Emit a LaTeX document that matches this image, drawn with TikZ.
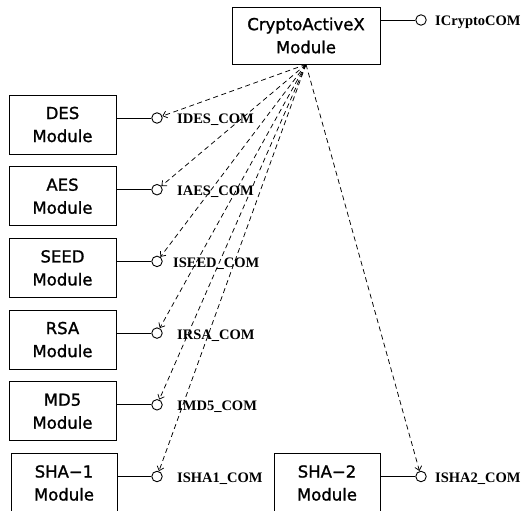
\documentclass[tikz,border=0pt]{standalone}
\usepackage{fontspec}
\setmainfont{Liberation Serif}
\newfontfamily\boxfont[FakeBold=1.3]{DejaVu Sans}
\usetikzlibrary{arrows.meta}
\begin{document}
\begin{tikzpicture}[x=1pt,y=-1pt,
  modbox/.style={draw, line width=0.9pt, minimum height=59pt, inner sep=0pt, align=center,
    font=\boxfont\fontsize{16.5}{23}\selectfont},
  iface/.style={circle, draw, line width=0.9pt, minimum size=10.5pt, inner sep=0pt},
  lbl/.style={anchor=base west, inner sep=0pt, font=\fontsize{14.5}{16}\selectfont\bfseries},
  conn/.style={line width=0.9pt},
  dep/.style={line width=0.75pt, dash pattern=on 5pt off 3.5pt, -{Straight Barb[length=4pt,width=7pt]}}
]
\useasboundingbox (0,0) rectangle (526,510);

% top module
\node[modbox, minimum width=148pt, minimum height=57pt] (cax) at (306,35.5) {CryptoActiveX\\Module};
\node[iface] (caxI) at (421,20) {};
\node[lbl] (caxL) at (435,26) {ICryptoCOM};
\draw[conn] (caxI) -- (caxI -| cax.east);

% left modules
\node[modbox, minimum width=107pt] (des) at (62.5,124.5) {DES\\Module};
\node[iface] (desI) at (157,118) {};
\node[lbl] (desL) at (177,124) {IDES\_COM};
\draw[conn] (desI) -- (desI -| des.east);

\node[modbox, minimum width=107pt] (aes) at (62.5,196.2) {AES\\Module};
\node[iface] (aesI) at (157,189.7) {};
\node[lbl] (aesL) at (177,195.7) {IAES\_COM};
\draw[conn] (aesI) -- (aesI -| aes.east);

\node[modbox, minimum width=107pt] (seed) at (62.5,267.9) {SEED\\Module};
\node[iface] (seedI) at (157,261.4) {};
\node[lbl] (seedL) at (173,267.4) {ISEED\_COM};
\draw[conn] (seedI) -- (seedI -| seed.east);

\node[modbox, minimum width=107pt] (rsa) at (62.5,339.6) {RSA\\Module};
\node[iface] (rsaI) at (157,333.1) {};
\node[lbl] (rsaL) at (177,339.1) {IRSA\_COM};
\draw[conn] (rsaI) -- (rsaI -| rsa.east);

\node[modbox, minimum width=107pt] (md5) at (62.5,411.3) {MD5\\Module};
\node[iface] (md5I) at (157,404.8) {};
\node[lbl] (md5L) at (177,410.8) {IMD5\_COM};
\draw[conn] (md5I) -- (md5I -| md5.east);

\node[modbox, minimum width=106pt] (sha1) at (64,483) {SHA−1\\Module};
\node[iface] (sha1I) at (157,476.5) {};
\node[lbl] (sha1L) at (177,482.5) {ISHA1\_COM};
\draw[conn] (sha1I) -- (sha1I -| sha1.east);

\node[modbox, minimum width=106pt] (sha2) at (327,483) {SHA−2\\Module};
\node[iface] (sha2I) at (421,476.5) {};
\node[lbl] (sha2L) at (435,482.5) {ISHA2\_COM};
\draw[conn] (sha2I) -- (sha2I -| sha2.east);

% dependencies
\foreach \t in {desI,aesI,seedI,rsaI,md5I,sha1I,sha2I}
  \draw[dep] (cax.south) -- (\t);
\end{tikzpicture}
\end{document}
